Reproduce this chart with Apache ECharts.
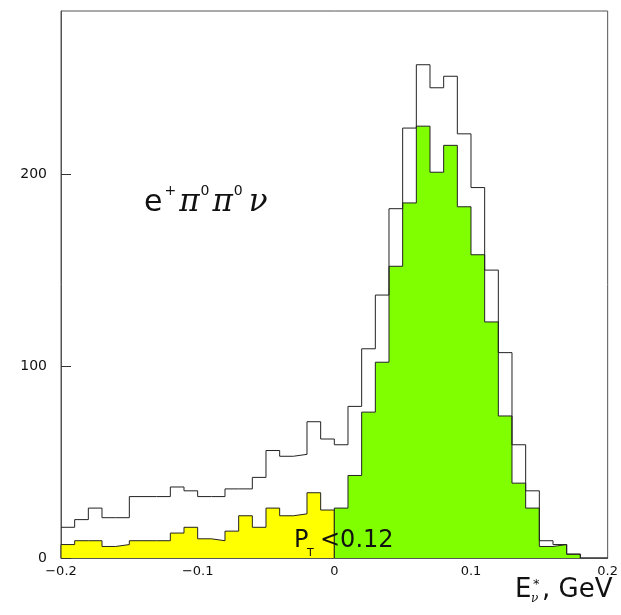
<!DOCTYPE html>
<html>
<head>
<meta charset="utf-8">
<script src="https://cdn.jsdelivr.net/npm/echarts@6/dist/echarts.min.js"></script>
<style>
  html, body { margin: 0; padding: 0; background: #fff; }
  #chart { width: 621px; height: 615px; }
</style>
</head>
<body>
<div id="chart"></div>
<script>
// bins of 0.01 GeV starting at -0.2
const binStart = -0.2;
const binWidth = 0.01;
// all events (open histogram)
const allCounts = [16, 20, 26, 21, 21, 32, 32, 32, 37, 35, 32, 32, 36, 36, 42, 56, 53, 54, 71, 62,
                   59, 79, 109, 137, 182, 224, 257, 245, 251, 221, 193, 150, 107, 59, 35, 9, 7, 2, 0, 0];
// PT < 0.12, below zero (yellow)
const cutNeg = [7, 9, 9, 6, 7, 9, 9, 9, 13, 16, 10, 9, 14, 22, 16, 26, 22, 23, 34, 25];
// PT < 0.12, zero and above (green)
const cutPos = [26, 43, 76, 102, 152, 185, 225, 201, 215, 183, 158, 123, 74, 39, 26, 6, 7, 2];

const xTicks = [-0.2, -0.1, 0, 0.1, 0.2];
const xTickLabels = ['\u22120.2', '\u22120.1', '0', '0.1', '0.2'];
const yTicks = [0, 100, 200];

// turn bin contents into step points (left edge of each bin + closing edge)
function stepPoints(counts, start, closeDown) {
  const pts = [];
  if (closeDown) pts.push([+start.toFixed(3), 0]);
  counts.forEach((c, i) => pts.push([+(start + i * binWidth).toFixed(3), c]));
  const end = +(start + counts.length * binWidth).toFixed(3);
  pts.push([end, counts[counts.length - 1]]);
  if (closeDown) pts.push([end, 0]);
  return pts;
}

const chart = echarts.init(document.getElementById('chart'));
const lineColor = '#222';
const txt = '#111';

const option = {
  animation: false,
  backgroundColor: '#fff',
  grid: {
    left: 61, right: 13, top: 11, bottom: 57,
    show: true, borderColor: '#555', borderWidth: 1
  },
  xAxis: {
    type: 'value',
    min: -0.2, max: 0.2, interval: 0.1,
    axisLine: { onZero: false, lineStyle: { color: '#555' } },
    axisTick: { show: false },
    splitLine: { show: false },
    axisLabel: {
      margin: 7,
      fontSize: 13,
      fontFamily: 'DejaVu Sans',
      color: '#111',
      formatter: v => {
        const i = xTicks.findIndex(t => Math.abs(t - v) < 1e-6);
        return i >= 0 ? xTickLabels[i] : '';
      }
    }
  },
  yAxis: {
    type: 'value',
    min: 0, max: 285, interval: 100,
    axisLine: { show: true, onZero: false, lineStyle: { color: '#555' } },
    axisTick: { show: true, inside: true, length: 10, lineStyle: { color: '#333' } },
    splitLine: { show: false },
    axisLabel: {
      margin: 14,
      fontSize: 14,
      fontFamily: 'DejaVu Sans',
      color: '#111',
      showMaxLabel: false,
      formatter: v => (yTicks.indexOf(v) >= 0 ? String(v) : '')
    }
  },
  series: [
    {
      type: 'line', step: 'end', symbol: 'none', silent: true,
      data: stepPoints(cutNeg, binStart, true),
      lineStyle: { color: lineColor, width: 1 },
      areaStyle: { color: '#ffff00', opacity: 1 },
      z: 2
    },
    {
      type: 'line', step: 'end', symbol: 'none', silent: true,
      data: stepPoints(cutPos, 0, true),
      lineStyle: { color: lineColor, width: 1 },
      areaStyle: { color: '#80ff00', opacity: 1 },
      z: 3
    },
    {
      type: 'line', step: 'end', symbol: 'none', silent: true,
      data: stepPoints(allCounts, binStart, false),
      lineStyle: { color: lineColor, width: 1 },
      z: 4
    }
  ],
  graphic: [
    {
      type: 'text', left: 144, top: 184, z: 10,
      style: {
        text: '{e|e}{sup|+}{pi|\u03c0}{sup|0}{pi|\u03c0}{supl|0}{pi|\u03bd}',
        rich: {
          e: { fontSize: 30, fontFamily: 'DejaVu Sans', lineHeight: 34, verticalAlign: 'bottom', fill: txt, padding: [0, 1, 0, 0] },
          pi: { fontSize: 31, fontFamily: 'DejaVu Serif', fontStyle: 'italic', lineHeight: 34, verticalAlign: 'bottom', fill: txt },
          sup: { fontSize: 14, fontFamily: 'DejaVu Sans', lineHeight: 29, verticalAlign: 'top', fill: txt, padding: [0, 3, 0, 1] },
          supl: { fontSize: 14, fontFamily: 'DejaVu Sans', lineHeight: 29, verticalAlign: 'top', fill: txt, padding: [0, 6, 0, 1] }
        }
      }
    },
    // P_T < 0.12
    { type: 'text', left: 294, top: 529, z: 10,
      style: { text: 'P', fontSize: 24, fontFamily: 'DejaVu Sans', fill: txt } },
    { type: 'text', left: 307, top: 548, z: 10,
      style: { text: 'T', fontSize: 11, fontFamily: 'DejaVu Sans', fill: txt } },
    { type: 'text', left: 320, top: 529, z: 10,
      style: { text: '<0.12', fontSize: 24, fontFamily: 'DejaVu Sans', fill: txt } },
    // axis title E_nu^*, GeV
    { type: 'text', left: 515, top: 577, z: 10,
      style: { text: 'E', fontSize: 26, fontFamily: 'DejaVu Sans', fill: txt } },
    { type: 'text', left: 531, top: 593, z: 10,
      style: { text: '\u03bd', fontSize: 12, fontFamily: 'DejaVu Serif', fontStyle: 'italic', fill: txt } },
    { type: 'text', left: 533, top: 578, z: 10,
      style: { text: '*', fontSize: 13, fontFamily: 'DejaVu Sans', fill: txt } },
    { type: 'text', left: 542, top: 577, z: 10,
      style: { text: ', GeV', fontSize: 26, fontFamily: 'DejaVu Sans', fill: txt } }
  ]
};

chart.setOption(option);
</script>
</body>
</html>
